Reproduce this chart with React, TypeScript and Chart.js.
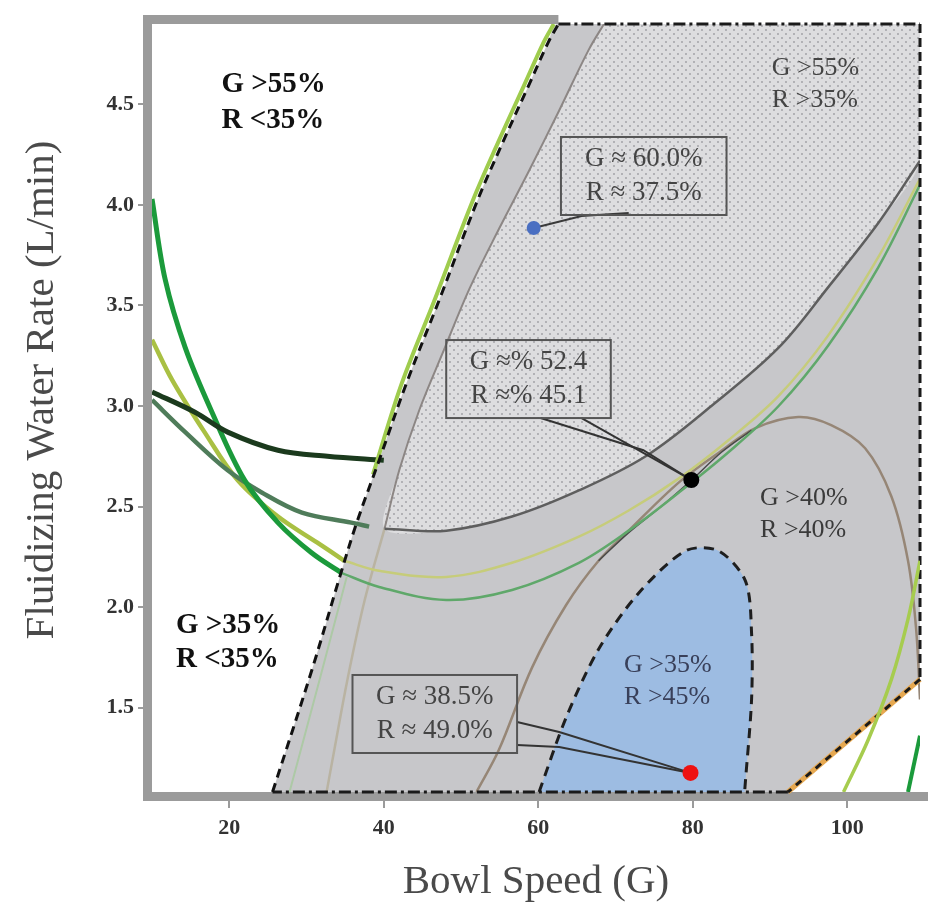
import React, { useEffect, useRef } from 'react';
import { Chart, registerables } from 'chart.js';

Chart.register(...registerables);

type Pt = [number, number];

// ---- axes ----
const X_MIN = 10;
const X_MAX = 109.4;
const Y_MIN = 1.08;
const Y_MAX = 4.9;
const xTickValues = [20, 40, 60, 80, 100];
const yTickValues = [1.5, 2.0, 2.5, 3.0, 3.5, 4.0, 4.5];
const xTitle = 'Bowl Speed (G)';
const yTitle = 'Fluidizing Water Rate (L/min)';

// ---- overlaid feasible region (gray) ----
const feasibleLeft: Pt[] = [[25.6, 1.08], [30.8, 1.7], [34.3, 2.15], [36.5, 2.42], [39.4, 2.73], [42.9, 3.11], [47.2, 3.53], [52.1, 4.02], [55.5, 4.32], [58.7, 4.59], [61.3, 4.81], [62.6, 4.9]];
const feasibleTop: Pt[] = [[62.6, 4.9], [109.4, 4.9]];
const feasibleRight: Pt[] = [[109.4, 4.9], [109.4, 1.64]];
const feasibleDiag: Pt[] = [[109.4, 1.64], [92.3, 1.08]];
const feasibleBottom: Pt[] = [[92.3, 1.08], [25.6, 1.08]];
const infeasibleCorner: Pt[] = [[92.3, 1.08], [109.4, 1.64], [109.4, 1.08]];
const greenEdge: Pt[] = [[38.6, 2.66], [42.3, 3.11], [46.6, 3.53], [51.5, 4.02], [54.9, 4.32], [58.1, 4.59], [60.7, 4.81], [62.0, 4.9]];

// ---- stippled region G>55%, R>35% ----
const stippleLeft: Pt[] = [[68.5, 4.9], [66.5, 4.77], [62.7, 4.47], [58.8, 4.17], [54.9, 3.88], [51.05, 3.58], [47.8, 3.28], [44.6, 2.98], [42.0, 2.68], [40.1, 2.39]];
const stippleBottom: Pt[] = [[40.1, 2.39], [48.1, 2.38], [56.6, 2.45], [65.25, 2.58], [73.9, 2.75], [82.4, 3.0], [91.1, 3.29], [97.5, 3.59], [104.0, 3.91], [109.4, 4.22]];

// ---- blue region G>35%, R>45% ----
const blueRegion: Pt[] = [[60.1, 1.08], [63.6, 1.45], [67.8, 1.79], [73.0, 2.07], [79.1, 2.28], [83.3, 2.28], [86.8, 2.13], [87.6, 1.87], [87.6, 1.54], [86.8, 1.13], [86.7, 1.08]];

// ---- contour lines ----
const darkGreenLeft: Pt[] = [[10, 3.07], [15.5, 2.97], [19.8, 2.87], [26.3, 2.78], [32.7, 2.75], [40.0, 2.73]];
const grayGreenLeft: Pt[] = [[10, 3.03], [14.3, 2.87], [19.8, 2.68], [24.2, 2.57], [29.4, 2.47], [35.8, 2.42], [38.1, 2.4]];
const brightGreenLeft: Pt[] = [[10, 4.03], [11.7, 3.63], [14.3, 3.29], [17.75, 2.97], [22.0, 2.63], [26.3, 2.42], [30.65, 2.27], [34.5, 2.17]];
const yellowGreenLeft: Pt[] = [[10, 3.33], [12.6, 3.13], [16.8, 2.87], [21.1, 2.63], [26.3, 2.45], [31.4, 2.32], [34.9, 2.23]];
const greenInner: Pt[] = [[34.5, 2.17], [39.4, 2.1], [48.1, 2.035], [56.6, 2.085], [65.25, 2.22], [71.7, 2.38], [78.2, 2.57], [84.6, 2.77], [91.1, 3.0], [97.5, 3.3], [104.0, 3.69], [109.4, 4.1]];
const yellowInner: Pt[] = [[34.9, 2.23], [39.4, 2.18], [48.1, 2.15], [56.6, 2.22], [65.25, 2.35], [71.7, 2.48], [78.2, 2.64], [84.6, 2.83], [91.1, 3.05], [97.5, 3.35], [104.0, 3.74], [109.4, 4.13]];
const paleTan: Pt[] = [[40.1, 2.39], [37.5, 2.03], [35.3, 1.64], [33.6, 1.29], [32.6, 1.08]];
const paleGreen: Pt[] = [[35.2, 2.15], [31.7, 1.64], [27.8, 1.08]];
const brownCurve: Pt[] = [[52.0, 1.08], [54.9, 1.29], [59.2, 1.7], [63.6, 2.01], [67.8, 2.23], [71.7, 2.38], [78.2, 2.62], [83.45, 2.77], [88.1, 2.89], [93.65, 2.945], [97.9, 2.905], [102.3, 2.79], [105.7, 2.55], [107.85, 2.23], [108.9, 1.89], [109.4, 1.54]];
const darkThin: Pt[] = [[67.8, 2.23], [71.7, 2.37], [75.9, 2.5], [79.8, 2.63], [83.7, 2.77], [87.6, 2.88]];
const yellowRight: Pt[] = [[99.5, 1.08], [102.7, 1.34], [105.7, 1.64], [107.85, 1.94], [109.4, 2.23]];
const greenRight: Pt[] = [[107.85, 1.08], [109.4, 1.36]];

// ---- optimum points & callout leaders ----
const bluePoint: Pt[] = [[59.4, 3.885]];
const blackPoint: Pt[] = [[79.8, 2.632]];
const redPoint: Pt[] = [[79.7, 1.175]];
const blueLeader: Pt[] = [[59.4, 3.885], [65.6, 3.945], [71.7, 3.96]];
const blackLeaderA: Pt[] = [[60.3, 2.94], [73.6, 2.78], [79.8, 2.632]];
const blackLeaderB: Pt[] = [[65.6, 2.94], [79.8, 2.632]];
const redLeaderA: Pt[] = [[57.25, 1.428], [62.7, 1.378], [79.7, 1.175]];
const redLeaderB: Pt[] = [[57.25, 1.314], [62.7, 1.304], [79.7, 1.175]];

// ---- text annotations (data coordinates) ----
const regionLabels = [
  { lines: ['G >55%', 'R <35%'], x: 19.0, y: [4.6, 4.42], font: 'bold 29px "Liberation Serif"', color: '#111' },
  { lines: ['G >35%', 'R <35%'], x: 13.1, y: [1.91, 1.74], font: 'bold 29px "Liberation Serif"', color: '#111' },
  { lines: ['G >55%', 'R >35%'], x: 90.2, y: [4.68, 4.52], font: '26px "Liberation Serif"', color: '#444' },
  { lines: ['G >40%', 'R >40%'], x: 88.7, y: [2.54, 2.38], font: '26px "Liberation Serif"', color: '#3a3a3a' },
  { lines: ['G >35%', 'R >45%'], x: 71.1, y: [1.71, 1.55], font: '26px "Liberation Serif"', color: '#39405a' },
];
const calloutBoxes = [
  { x0: 62.93, x1: 84.36, y0: 4.338, y1: 3.95, lines: ['G \u2248 60.0%', 'R \u2248 37.5%'] },
  { x0: 48.08, x1: 69.38, y0: 3.328, y1: 2.94, lines: ['G \u2248% 52.4', 'R \u2248% 45.1'] },
  { x0: 35.95, x1: 57.25, y0: 1.662, y1: 1.274, lines: ['G \u2248 38.5%', 'R \u2248 49.0%'] },
];

const toXY = (a: Pt[]) => a.map(([x, y]) => ({ x, y }));

function line(data: Pt[], color: string, width: number, order: number, extra: any = {}) {
  return {
    type: 'scatter',
    data: toXY(data),
    showLine: true,
    borderColor: color,
    borderWidth: width,
    pointRadius: 0,
    pointHoverRadius: 0,
    fill: false,
    tension: 0.35,
    order,
    ...extra,
  };
}

function region(data: Pt[], color: any, order: number, extra: any = {}) {
  return {
    type: 'scatter',
    data: toXY(data),
    showLine: true,
    borderWidth: 0,
    borderColor: 'rgba(0,0,0,0)',
    backgroundColor: color,
    pointRadius: 0,
    pointHoverRadius: 0,
    fill: 'shape',
    tension: 0.3,
    order,
    ...extra,
  };
}

function dot(data: Pt[], color: string, r: number, order: number) {
  return {
    type: 'scatter',
    data: toXY(data),
    showLine: false,
    pointRadius: r,
    pointHoverRadius: r,
    pointBackgroundColor: color,
    pointBorderWidth: 0,
    order,
  };
}

function makeStipple(): CanvasPattern | string {
  const c = document.createElement('canvas');
  c.width = 8;
  c.height = 8;
  const g = c.getContext('2d');
  if (!g) return '#dcdcdc';
  g.fillStyle = '#dddddf';
  g.fillRect(0, 0, 8, 8);
  g.fillStyle = '#a6a6aa';
  g.beginPath();
  g.arc(2, 2, 1.05, 0, Math.PI * 2);
  g.arc(6, 6, 1.05, 0, Math.PI * 2);
  g.fill();
  return g.createPattern(c, 'repeat') || '#dcdcdc';
}

const decorPlugin = {
  id: 'decor',
  beforeDatasetsDraw(chart: any) {
    const { ctx, chartArea: a, scales } = chart;
    const topEnd = scales.x.getPixelForValue(feasibleTop[0][0]);
    ctx.save();
    ctx.strokeStyle = '#9b9b9b';
    ctx.lineWidth = 9;
    ctx.lineCap = 'butt';
    ctx.beginPath();
    ctx.moveTo(topEnd, a.top - 4.5);
    ctx.lineTo(a.left - 4.5, a.top - 4.5);
    ctx.lineTo(a.left - 4.5, a.bottom + 4.5);
    ctx.lineTo(a.right + 8, a.bottom + 4.5);
    ctx.stroke();
    ctx.restore();
  },
  afterDatasetsDraw(chart: any) {
    const { ctx, scales } = chart;
    const X = (v: number) => scales.x.getPixelForValue(v);
    const Y = (v: number) => scales.y.getPixelForValue(v);
    ctx.save();
    ctx.textBaseline = 'middle';
    for (const l of regionLabels) {
      ctx.font = l.font;
      ctx.fillStyle = l.color;
      ctx.textAlign = 'left';
      l.lines.forEach((t, i) => ctx.fillText(t, X(l.x), Y(l.y[i])));
    }
    for (const b of calloutBoxes) {
      const x0 = X(b.x0), x1 = X(b.x1), y0 = Y(b.y0), y1 = Y(b.y1);
      ctx.strokeStyle = '#555';
      ctx.lineWidth = 2;
      ctx.strokeRect(x0, y0, x1 - x0, y1 - y0);
      ctx.font = '27px "Liberation Serif"';
      ctx.fillStyle = '#444';
      ctx.textAlign = 'center';
      const cx = (x0 + x1) / 2, cy = (y0 + y1) / 2;
      ctx.fillText(b.lines[0], cx, cy - 17);
      ctx.fillText(b.lines[1], cx, cy + 17);
    }
    ctx.restore();
  },
  afterDraw(chart: any) {
    const { ctx } = chart;
    ctx.save();
    ctx.fillStyle = '#4a4a4a';
    ctx.font = '41px "Liberation Serif"';
    ctx.textAlign = 'center';
    ctx.textBaseline = 'middle';
    ctx.fillText(xTitle, 536, 882);
    ctx.translate(42, 390);
    ctx.rotate(-Math.PI / 2);
    ctx.fillText(yTitle, 0, 0);
    ctx.restore();
  },
};

export default function App() {
  const ref = useRef<HTMLCanvasElement>(null);

  useEffect(() => {
    if (!ref.current) return;
    const stipple = makeStipple();
    const edge = { clip: 8 };
    const datasets: any[] = [
      // gray region: area below the left boundary + top edge
      {
        ...line([...feasibleLeft, [109.4, 4.9]], 'rgba(0,0,0,0)', 0, 100),
        fill: 'start',
        backgroundColor: '#c7c7ca',
      },
      region(infeasibleCorner, '#ffffff', 99, { tension: 0 }),
      region([...stippleLeft, ...stippleBottom.slice(1), [109.4, 4.9]], stipple, 95),
      region(blueRegion, '#9dbce2', 90, {
        borderWidth: 3,
        borderColor: '#1e1e1e',
        borderDash: [10, 7],
        clip: 8,
      }),
      line(paleTan, '#b9b3a2', 2.5, 82),
      line(paleGreen, '#adc9a6', 2, 82),
      line(brownCurve, '#968676', 2.5, 78),
      line(darkThin, '#4a4a4a', 1.5, 77),
      line(yellowInner, '#c6cc7a', 2.5, 72),
      line(greenInner, '#5fa86a', 2.5, 71),
      line(stippleLeft, '#8c8684', 2, 66),
      line(stippleBottom, '#5e5e5e', 2.5, 65),
      line(yellowGreenLeft, '#a9c043', 4.5, 62),
      line(grayGreenLeft, '#4f7c5a', 4.5, 61),
      line(brightGreenLeft, '#1b9a3b', 5, 60),
      line(darkGreenLeft, '#1b3a1d', 5, 59),
      line(greenEdge, '#9fcc4e', 4, 52),
      line(feasibleDiag, '#e6a850', 5, 48, { tension: 0, ...edge }),
      line(feasibleLeft, '#111', 3, 45, { borderDash: [9, 6] }),
      line(feasibleTop, '#1a1a1a', 3, 45, { tension: 0, borderDash: [12, 4, 3, 4], ...edge }),
      line(feasibleRight, '#1a1a1a', 3, 45, { tension: 0, borderDash: [9, 5], ...edge }),
      line(feasibleDiag, '#1a1a1a', 3, 44, { tension: 0, borderDash: [7, 6], ...edge }),
      line(feasibleBottom, '#1a1a1a', 3, 45, { tension: 0, borderDash: [12, 4, 3, 4], ...edge }),
      line(yellowRight, '#a6cc4e', 3.5, 40),
      line(greenRight, '#1b9a3b', 4, 40, { tension: 0 }),
      line(blueLeader, '#3a3a3a', 2, 20, { tension: 0 }),
      line(blackLeaderA, '#333', 2, 20, { tension: 0 }),
      line(blackLeaderB, '#333', 2, 20, { tension: 0 }),
      line(redLeaderA, '#333', 2, 20, { tension: 0 }),
      line(redLeaderB, '#333', 2, 20, { tension: 0 }),
      dot(bluePoint, '#4a6fc2', 7, 5),
      dot(blackPoint, '#000000', 8, 5),
      dot(redPoint, '#ee1111', 8, 5),
    ];

    const tickFont = { family: '"Liberation Serif"', size: 22, weight: 'bold' as const };
    const chart = new Chart(ref.current, {
      type: 'scatter',
      data: { datasets },
      options: {
        animation: false,
        responsive: false,
        devicePixelRatio: 1,
        events: [],
        layout: { padding: { top: 24, right: 6, left: 0, bottom: 0 } },
        plugins: { legend: { display: false }, tooltip: { enabled: false } },
        scales: {
          x: {
            type: 'linear',
            min: X_MIN,
            max: X_MAX,
            afterBuildTicks: (s: any) => {
              s.ticks = xTickValues.map((v) => ({ value: v }));
            },
            afterFit: (s: any) => {
              s.height = 121;
            },
            ticks: {
              callback: (v: any) => String(v),
              font: tickFont,
              color: '#333',
              padding: 7,
              maxRotation: 0,
              autoSkip: false,
            },
            grid: { drawOnChartArea: false, drawTicks: true, tickLength: 16, color: '#9b9b9b', lineWidth: 2 },
            border: { display: false },
          },
          y: {
            type: 'linear',
            min: Y_MIN,
            max: Y_MAX,
            afterBuildTicks: (s: any) => {
              s.ticks = yTickValues.map((v) => ({ value: v }));
            },
            afterFit: (s: any) => {
              s.width = 152;
            },
            ticks: {
              callback: (v: any) => Number(v).toFixed(1),
              font: tickFont,
              color: '#333',
              padding: 4,
              autoSkip: false,
            },
            grid: { drawOnChartArea: false, drawTicks: true, tickLength: 14, color: '#9b9b9b', lineWidth: 2 },
            border: { display: false },
          },
        },
      } as any,
      plugins: [decorPlugin],
    });
    return () => chart.destroy();
  }, []);

  return (
    <div style={{ position: 'fixed', left: 0, top: 0, width: 928, height: 913, background: '#fff' }}>
      <canvas ref={ref} width={928} height={913} style={{ width: 928, height: 913, display: 'block' }} />
    </div>
  );
}
